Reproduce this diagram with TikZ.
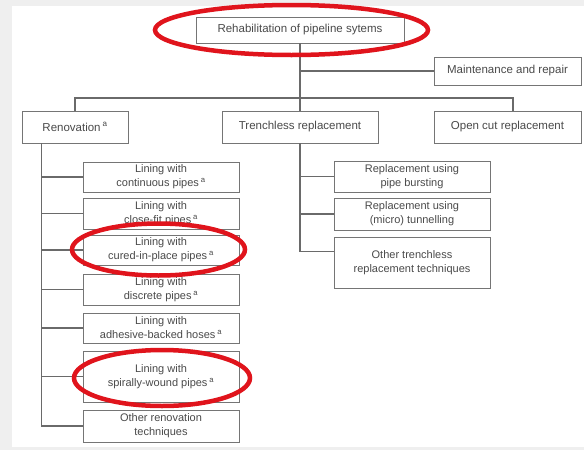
\documentclass[tikz,border=0pt]{standalone}
\usepackage{fontspec}
\setmainfont{Liberation Sans}
\usetikzlibrary{calc}
\definecolor{bgc}{HTML}{EFEFEF}
\definecolor{linec}{HTML}{6A6A6A}
\definecolor{boxc}{HTML}{757575}
\definecolor{txtc}{HTML}{4A4A4A}
\definecolor{redc}{HTML}{E0141C}
\begin{document}
\begin{tikzpicture}[x=1pt,y=-1pt,
  box/.style={draw=boxc, line width=0.9pt, fill=white, align=center, inner sep=0pt, text=txtc},
  mainbox/.style={box, font=\fontsize{11.5}{14}\selectfont},
  subbox/.style={box, font=\fontsize{11}{14}\selectfont, minimum width=156pt},
  conn/.style={draw=linec, line width=1.1pt},
  redring/.style={draw=redc, line width=4.5pt}
]
\useasboundingbox (0,0) rectangle (584,450);
\fill[bgc] (0,0) rectangle (584,450);
\fill[white] (12,6) rectangle (584,447);

% top level
\node[mainbox, minimum width=208pt, minimum height=26pt] (top) at (300,30) {Rehabilitation of pipeline sytems};
\node[mainbox, minimum width=147pt, minimum height=28pt] (maint) at (507.5,71) {Maintenance and repair};
% second level
\node[mainbox, minimum width=106pt, minimum height=32pt] (reno) at (75,127) {Renovation\,\textsuperscript{a}};
\node[mainbox, minimum width=156pt, minimum height=32pt] (trench) at (300,127) {Trenchless replacement};
\node[mainbox, minimum width=147pt, minimum height=32pt] (open) at (507.5,127) {Open cut replacement};
% renovation children
\node[subbox, minimum height=30pt] (b1) at (161,177) {Lining with\\continuous pipes\,\textsuperscript{a}};
\node[subbox, minimum height=31pt] (b2) at (161,213.5) {Lining with\\close-fit pipes\,\textsuperscript{a}};
\node[subbox, minimum height=30pt] (b3) at (161,250) {Lining with\\cured-in-place pipes\,\textsuperscript{a}};
\node[subbox, minimum height=31pt] (b4) at (161,289.5) {Lining with\\discrete pipes\,\textsuperscript{a}};
\node[subbox, minimum height=30pt] (b5) at (161,328) {Lining with\\adhesive-backed hoses\,\textsuperscript{a}};
\node[subbox, minimum height=51pt] (b6) at (161,376.5) {Lining with\\spirally-wound pipes\,\textsuperscript{a}};
\node[subbox, minimum height=32pt] (b7) at (161,426) {Other renovation\\techniques};
% trenchless children
\node[subbox, minimum height=31pt] (rA) at (412,176.5) {Replacement using\\pipe bursting};
\node[subbox, minimum height=32pt] (rB) at (412,214) {Replacement using\\(micro) tunnelling};
\node[subbox, minimum height=51pt] (rC) at (412,262.5) {Other trenchless\\replacement techniques};

% connectors
\coordinate (ocj) at (513,98);
\draw[conn] (top.south) -- (trench.north);
\draw[conn] (top.south |- maint.west) -- (maint.west);
\draw[conn] (reno.north) |- (ocj) -- (ocj |- open.north);
\coordinate (rt) at ($(reno.south west)+(20,0)$);
\draw[conn] (rt) |- (b7.west);
\foreach \b in {b1,b2,b3,b4,b5,b6} \draw[conn] (rt |- \b.west) -- (\b.west);
\coordinate (rcj) at ($(rC.north west)+(0,15)$);
\draw[conn] (trench.south) |- (rcj);
\draw[conn] (trench.south |- rA.west) -- (rA.west);
\draw[conn] (trench.south |- rB.west) -- (rB.west);

% red highlight ellipses
\draw[redring] (291.5,30) ellipse [x radius=136.5, y radius=25];
\draw[redring] (158.5,249.5) ellipse [x radius=86.5, y radius=26];
\draw[redring] (162,378) ellipse [x radius=88, y radius=28];
\end{tikzpicture}
\end{document}
